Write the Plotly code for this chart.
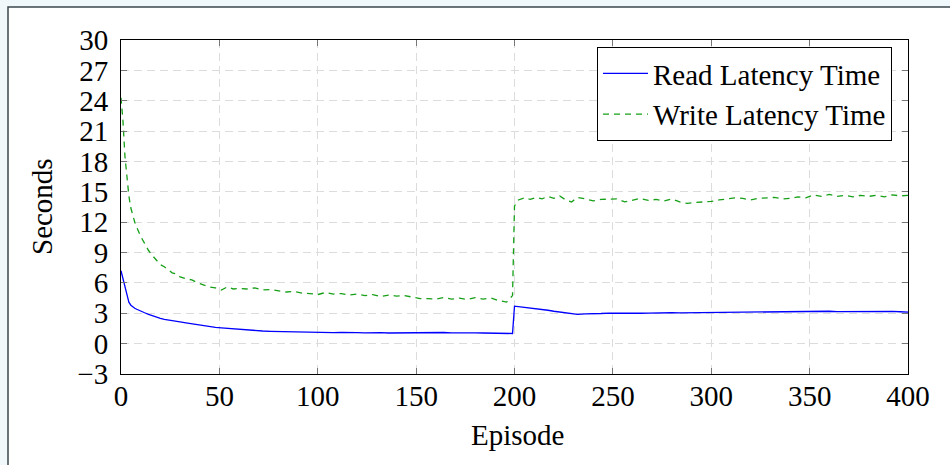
import plotly.graph_objects as go

episodes = [
    0, 1, 2, 3, 4, 5, 6, 7, 8, 10,
    12, 14, 16, 18, 20, 22, 24, 26, 28, 30,
    33, 36, 39, 42, 45, 48, 51, 54, 57, 60,
    64, 68, 72, 76, 80, 84, 88, 92, 96, 100,
    104, 108, 112, 116, 120, 124, 128, 132, 136, 140,
    144, 148, 152, 156, 160, 164, 168, 172, 176, 180,
    184, 188, 192, 196, 199, 200, 202, 205, 208, 211,
    214, 217, 220, 223, 226, 229, 232, 236, 240, 244,
    248, 252, 256, 260, 264, 268, 272, 276, 280, 284,
    288, 292, 296, 300, 304, 308, 312, 316, 320, 324,
    328, 332, 336, 340, 344, 348, 352, 356, 360, 364,
    368, 372, 376, 380, 384, 388, 392, 396, 400,
]

read_latency = [
    7.2, 6.4, 5.4, 4.6, 4.1, 3.8, 3.6, 3.5, 3.4, 3.2,
    3.05, 2.9, 2.75, 2.6, 2.5, 2.4, 2.35, 2.3, 2.2, 2.15,
    2.05, 1.95, 1.85, 1.75, 1.7, 1.6, 1.55, 1.5, 1.45, 1.4,
    1.35, 1.3, 1.25, 1.22, 1.2, 1.15, 1.15, 1.12, 1.1, 1.12,
    1.1, 1.08, 1.1, 1.12, 1.08, 1.06, 1.1, 1.08, 1.05, 1.06,
    1.08, 1.06, 1.05, 1.08, 1.07, 1.1, 1.06, 1.08, 1.1, 1.06,
    1.05, 1.03, 1.02, 1.0, 1.0, 3.7, 3.66, 3.6, 3.55, 3.48,
    3.4, 3.3, 3.2, 3.12, 3.02, 2.92, 2.9, 2.95, 3.0, 2.98,
    3.02, 3.0, 3.02, 3.03, 3.0, 3.02, 3.05, 3.03, 3.05, 3.04,
    3.05, 3.06, 3.08, 3.07, 3.08, 3.1, 3.08, 3.1, 3.12, 3.1,
    3.12, 3.13, 3.15, 3.14, 3.18, 3.22, 3.2, 3.18, 3.2, 3.17,
    3.18, 3.16, 3.15, 3.17, 3.15, 3.16, 3.18, 3.15, 3.12,
]

write_latency = [
    24.3, 22.0, 18.5, 16.2, 14.6, 13.4, 12.6, 12.0, 11.5, 10.6,
    9.9, 9.2, 8.7, 8.3, 7.8, 7.6, 7.3, 7.0, 6.9, 6.6,
    6.4, 6.3, 6.0, 5.8, 5.6, 5.5, 5.3, 5.6, 5.4, 5.45,
    5.4, 5.5, 5.3, 5.35, 5.2, 5.1, 5.15, 5.0, 4.95, 4.85,
    5.05, 4.9, 4.95, 4.8, 4.9, 4.75, 4.85, 4.65, 4.8, 4.7,
    4.75, 4.6, 4.45, 4.45, 4.4, 4.55, 4.4, 4.5, 4.35, 4.55,
    4.4, 4.5, 4.25, 4.1, 4.75, 13.6, 14.2, 14.4, 14.25, 14.45,
    14.3, 14.55, 14.35, 14.6, 14.2, 14.0, 14.45, 14.3, 14.1, 14.25,
    14.25, 14.3, 14.0, 14.2, 14.35, 14.15, 14.25, 14.1, 14.3, 14.0,
    13.85, 13.95, 14.0, 14.05, 14.2, 14.3, 14.4, 14.35, 14.2, 14.35,
    14.4, 14.45, 14.3, 14.35, 14.5, 14.4, 14.7, 14.55, 14.75, 14.55,
    14.65, 14.5, 14.65, 14.55, 14.65, 14.5, 14.7, 14.6, 14.65,
]

x_ticks = [0, 50, 100, 150, 200, 250, 300, 350, 400]
y_ticks = [-3, 0, 3, 6, 9, 12, 15, 18, 21, 24, 27, 30]
y_tick_labels = ["\u22123", "0", "3", "6", "9", "12", "15", "18", "21", "24", "27", "30"]

FONT = "Liberation Serif"
FS = 29

fig = go.Figure()
fig.add_trace(go.Scatter(
    x=episodes, y=read_latency, mode="lines", name="Read Latency Time",
    line=dict(color="#0000ff", width=1.3),
))
fig.add_trace(go.Scatter(
    x=episodes, y=write_latency, mode="lines", name="Write Latency Time",
    line=dict(color="#17a017", width=1.3, dash="6px,5px"),
))

L, R, T, B = 121, 42, 40, 91
W, H = 950, 465
pw, ph = W - L - R, H - T - B

axis_common = dict(
    showline=True, linecolor="black", linewidth=1, mirror="allticks",
    ticks="inside", ticklen=6, tickcolor="#777777", tickwidth=1,
    showgrid=True, gridcolor="#dcdcdc", gridwidth=1.3, griddash="8px,5px",
    zeroline=False, tickfont=dict(family=FONT, size=FS, color="black"),
)

fig.update_xaxes(range=[0, 400], tickvals=x_ticks, ticktext=[str(v) for v in x_ticks],
                 ticklabelstandoff=-4, **axis_common)
fig.update_yaxes(range=[-3, 30], tickvals=y_ticks, ticktext=y_tick_labels,
                 ticklabelstandoff=6, **axis_common)

fig.add_shape(type="rect", xref="paper", yref="paper",
              x0=(8 - L) / pw, x1=1 + (W + 20 - (L + pw)) / pw,
              y0=-(H + 20 - (T + ph)) / ph, y1=1 + (T - 7) / ph,
              line=dict(color="#3b474d", width=1.5), fillcolor="white", layer="below")

fig.add_annotation(text="Seconds", xref="paper", yref="paper",
                   x=(42 - L) / pw, y=0.5, textangle=-90, showarrow=False,
                   xanchor="center", yanchor="middle",
                   font=dict(family=FONT, size=FS, color="black"))
fig.add_annotation(text="Episode", xref="paper", yref="paper",
                   x=(517 - L) / pw, y=-(435 - (T + ph)) / ph, showarrow=False,
                   xanchor="center", yanchor="middle",
                   font=dict(family=FONT, size=FS, color="black"))

fig.update_layout(
    width=W, height=H,
    margin=dict(l=L, r=R, t=T, b=B),
    paper_bgcolor="#f1f8fb", plot_bgcolor="white",
    showlegend=True,
    legend=dict(
        x=(892 - L) / pw, y=1 - (47 - T) / ph, xanchor="right", yanchor="top",
        bgcolor="white", bordercolor="black", borderwidth=1,
        font=dict(family=FONT, size=FS, color="black"),
        tracegroupgap=0, itemwidth=45,
    ),
)

fig.write_html("out.html")
